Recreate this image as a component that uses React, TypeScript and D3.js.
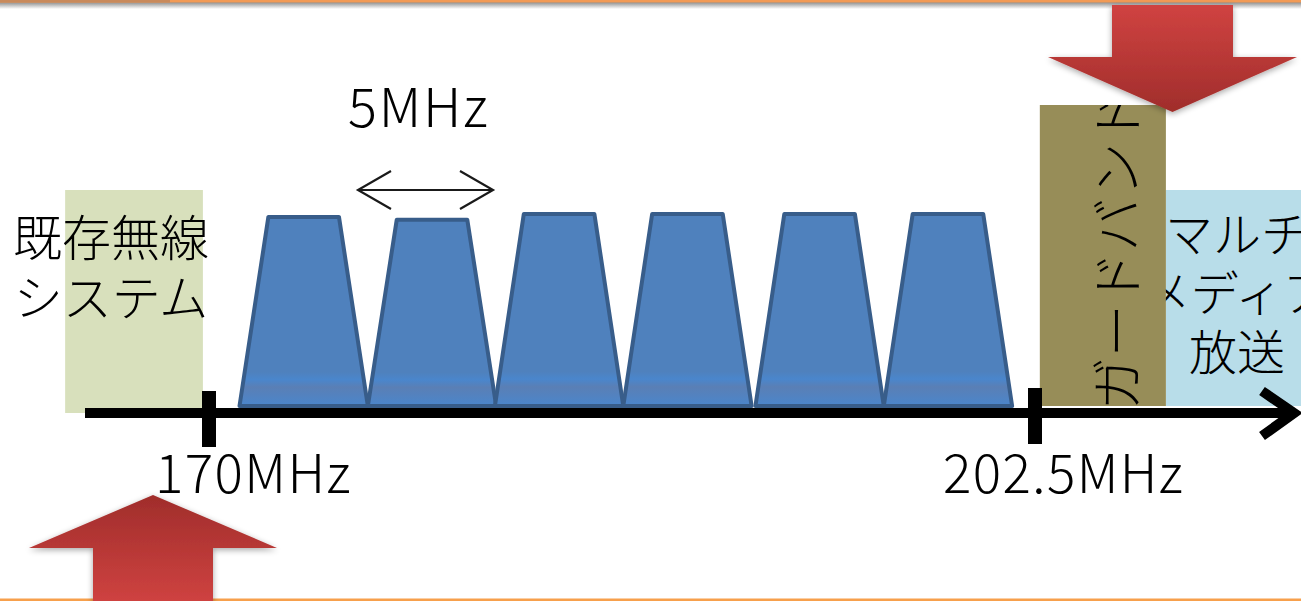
import React from "react";
import * as d3 from "d3";

// ---- data ----
const channelStartsMHz = [171.2, 176.25, 181.25, 186.3, 191.5, 196.55];
const channelLevels = [0.985, 0.97, 1, 1, 1, 1];
const channelWidthMHz = 5.05;
const channelShoulder = 0.225; // fraction of width used by each slope
const tickMHz = [170, 202.5];
const tickLabels = ["170MHz", "202.5MHz"];
const spacingLabel = "5MHz";
const existingLines = ["既存無線", "システム"];
const guardLabel = "ガードバンド";
const multimediaLines = ["マルチ", "メディア", "放送"];
const existingBandMHz = [164.34, 169.76];
const guardBandMHz = [202.69, 207.65];
const multimediaBandMHz = [207.65, 213.0];

const W = 1301;
const H = 601;
const FONT = "'Noto Sans CJK JP', 'Noto Sans', sans-serif";

export default function App() {
  const x = d3.scaleLinear().domain([170, 202.5]).range([209, 1035]);
  const y = d3.scaleLinear().domain([0, 1]).range([408, 214]);
  const axisY = 413;

  const line = d3
    .line<[number, number]>()
    .x((d) => d[0])
    .y((d) => d[1]);

  const trapezoids = channelStartsMHz.map((s, i) => {
    const x0 = x(s);
    const x1 = x(s + channelWidthMHz);
    const sh = (x1 - x0) * channelShoulder;
    const top = y(channelLevels[i]);
    const bot = y(0) - 2;
    const pts: [number, number][] = [
      [x0, bot],
      [x0 + sh, top],
      [x1 - sh, top],
      [x1, bot],
    ];
    return line(pts) + "Z";
  });

  const upArrow = d3.path();
  {
    const cx = 153;
    upArrow.moveTo(cx, 495);
    upArrow.lineTo(277, 548);
    upArrow.lineTo(213, 548);
    upArrow.lineTo(213, 605);
    upArrow.lineTo(93, 605);
    upArrow.lineTo(93, 548);
    upArrow.lineTo(29, 548);
    upArrow.closePath();
  }
  const downArrow = d3.path();
  {
    const cx = 1172.5;
    downArrow.moveTo(1112, 5);
    downArrow.lineTo(1233, 5);
    downArrow.lineTo(1233, 57);
    downArrow.lineTo(1297, 57);
    downArrow.lineTo(cx, 112);
    downArrow.lineTo(1048, 57);
    downArrow.lineTo(1112, 57);
    downArrow.closePath();
  }

  const gx0 = x(guardBandMHz[0]);
  const gx1 = x(guardBandMHz[1]);

  return (
    <svg
      width={W}
      height={H}
      style={{ position: "absolute", left: 0, top: 0, background: "#fff" }}
      fontFamily={FONT}
      fontWeight={300}
    >
      <defs>
        <linearGradient id="topShadow" x1="0" y1="0" x2="0" y2="1">
          <stop offset="0" stopColor="#8a8a8a" />
          <stop offset="1" stopColor="#ffffff" />
        </linearGradient>
        <linearGradient id="redDown" x1="0" y1="0" x2="0" y2="1">
          <stop offset="0" stopColor="#d04341" />
          <stop offset="1" stopColor="#a02d2b" />
        </linearGradient>
        <linearGradient id="redUp" x1="0" y1="0" x2="0" y2="1">
          <stop offset="0" stopColor="#a02d2b" />
          <stop offset="1" stopColor="#d04341" />
        </linearGradient>
        <linearGradient id="chan" x1="0" y1="0" x2="0" y2="1">
          <stop offset="0" stopColor="#4f81bd" />
          <stop offset="0.82" stopColor="#4f81bd" />
          <stop offset="0.86" stopColor="#4a86cc" />
          <stop offset="0.9" stopColor="#5a7fb5" />
          <stop offset="1" stopColor="#4a86cc" />
        </linearGradient>
        <filter id="shadow" x="-20%" y="-20%" width="140%" height="140%">
          <feGaussianBlur in="SourceAlpha" stdDeviation="3" />
          <feOffset dx="0" dy="2" result="b" />
          <feComponentTransfer>
            <feFuncA type="linear" slope="0.35" />
          </feComponentTransfer>
          <feMerge>
            <feMergeNode />
            <feMergeNode in="SourceGraphic" />
          </feMerge>
        </filter>
        <clipPath id="guardClip">
          <rect x={gx0} y={105} width={gx1 - gx0} height={301} />
        </clipPath>
      </defs>

      {/* top border */}
      <rect x={0} y={2} width={W} height={7} fill="url(#topShadow)" />
      <rect x={0} y={0} width={W} height={2.5} fill="#f29a55" />
      <rect x={0} y={0} width={170} height={2.5} fill="#c98a5c" />
      {/* bottom border */}
      <rect x={0} y={598.5} width={W} height={3} fill="#f7a04c" />

      {/* existing system band */}
      <rect
        x={x(existingBandMHz[0])}
        y={190}
        width={x(existingBandMHz[1]) - x(existingBandMHz[0])}
        height={223}
        fill="#d8e0bc"
      />
      {existingLines.map((t, i) => (
        <text
          key={t}
          x={111}
          y={256 + i * 60}
          fontSize={49}
          textAnchor="middle"
          fill="#000"
        >
          {t}
        </text>
      ))}

      {/* multimedia band */}
      <rect
        x={x(multimediaBandMHz[0])}
        y={190}
        width={x(multimediaBandMHz[1]) - x(multimediaBandMHz[0])}
        height={216}
        fill="#b8dde9"
      />
      {multimediaLines.map((t, i) => (
        <text
          key={t}
          x={1237}
          y={252 + i * 59}
          fontSize={48}
          textAnchor="middle"
          fill="#000"
        >
          {t}
        </text>
      ))}

      {/* guard band */}
      <rect x={gx0} y={105} width={gx1 - gx0} height={301} fill="#978d58" />
      <g clipPath="url(#guardClip)">
        <text
          transform={`translate(1114,250) rotate(-90)`}
          fontSize={53}
          textAnchor="middle"
          dominantBaseline="central"
          fill="#000"
        >
          {guardLabel}
        </text>
      </g>

      {/* channels */}
      {trapezoids.map((d, i) => (
        <path
          key={i}
          d={d}
          fill="url(#chan)"
          stroke="#385d8a"
          strokeWidth={4}
          strokeLinejoin="round"
        />
      ))}

      {/* 5MHz spacing indicator */}
      <text x={348} y={127} fontSize={54} letterSpacing={1.8} fill="#000">
        {spacingLabel}
      </text>
      <g stroke="#1a1a1a" strokeWidth={2.2} fill="none">
        <line x1={358} y1={190} x2={493} y2={190} />
        <path d={`M391,171 L358,190 L391,209`} />
        <path d={`M460,171 L493,190 L460,209`} />
      </g>

      {/* axis */}
      <line x1={85} y1={axisY} x2={1292} y2={axisY} stroke="#000" strokeWidth={10} />
      <path
        d={`M1262,391 L1294,413 L1262,436`}
        stroke="#000"
        strokeWidth={10}
        fill="none"
        strokeLinejoin="miter"
      />
      {tickMHz.map((t, i) => (
        <g key={t}>
          <rect x={x(t) - 7} y={i === 0 ? 391 : 388} width={14} height={56} fill="#000" />
          <text
            x={i === 0 ? x(t) - 54 : x(t) - 92}
            y={493}
            fontSize={53}
            letterSpacing={1.4}
            fill="#000"
          >
            {tickLabels[i]}
          </text>
        </g>
      ))}

      {/* red arrows */}
      <path d={downArrow.toString()} fill="url(#redDown)" filter="url(#shadow)" />
      <path d={upArrow.toString()} fill="url(#redUp)" filter="url(#shadow)" />
    </svg>
  );
}
